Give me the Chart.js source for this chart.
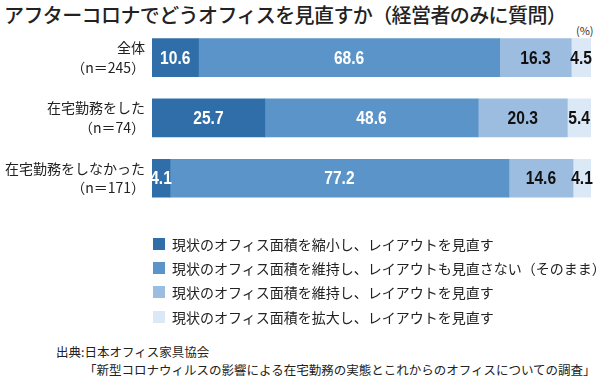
<!DOCTYPE html>
<html lang="ja">
<head>
<meta charset="utf-8">
<script src="https://cdn.jsdelivr.net/npm/chart.js@4/dist/chart.umd.min.js"></script>
<style>
  body { margin: 0; width: 600px; height: 385px; background: #fff; position: relative; overflow: hidden;
         font-family: "Noto Sans CJK JP", sans-serif; color: #222; }
  #title { position: absolute; left: 4px; top: 0px; font-size: 20px; font-weight: 500; letter-spacing: -0.6px; white-space: nowrap; }
  #unit { position: absolute; left: 576px; top: 22px; font-size: 11px; color: #333; }
  #chartWrap { position: absolute; left: 0; top: 0; width: 600px; height: 235px; }
  #legend { position: absolute; left: 153px; top: 231.5px; font-size: 14px; }
  #legend div { height: 24.4px; display: flex; align-items: center; white-space: nowrap; }
  #legend span.sw { display: inline-block; width: 12px; height: 12px; margin-right: 7px; }
  #source { position: absolute; left: 56px; top: 343px; font-size: 12.5px; line-height: 17.5px; white-space: nowrap; }
  #source .l2 { display: block; padding-left: 28px; }
</style>
</head>
<body>
<div id="title">アフターコロナでどうオフィスを見直すか（経営者のみに質問）</div>
<div id="unit">(%)</div>
<div id="chartWrap"><canvas id="chart" width="600" height="235"></canvas></div>
<div id="legend"></div>
<div id="source">出典:日本オフィス家具協会<span class="l2">「新型コロナウィルスの影響による在宅勤務の実態とこれからのオフィスについての調査」</span></div>
<script>
const categories = [
  ["全体", "（n＝245）"],
  ["在宅勤務をした", "（n＝74）"],
  ["在宅勤務をしなかった", "（n＝171）"],
];
const seriesNames = [
  "現状のオフィス面積を縮小し、レイアウトを見直す",
  "現状のオフィス面積を維持し、レイアウトも見直さない（そのまま）",
  "現状のオフィス面積を維持し、レイアウトを見直す",
  "現状のオフィス面積を拡大し、レイアウトを見直す",
];
const shrinkValues = [10.6, 25.7, 4.1];
const keepValues = [68.6, 48.6, 77.2];
const relayoutValues = [16.3, 20.3, 14.6];
const expandValues = [4.5, 5.4, 4.1];
const colors = ["#2f6ea9", "#5b94c9", "#9cbde0", "#dbe8f5"];
const labelColors = ["#ffffff", "#ffffff", "#111111", "#111111"];

const allValues = [shrinkValues, keepValues, relayoutValues, expandValues];

// legend (html)
const legendEl = document.getElementById("legend");
seriesNames.forEach((name, i) => {
  const row = document.createElement("div");
  row.innerHTML = `<span class="sw" style="background:${colors[i]}"></span>${name}`;
  legendEl.appendChild(row);
});

// value labels inside the segments, drawn narrow like a condensed face
const valueLabels = {
  id: "valueLabels",
  afterDatasetsDraw(chart) {
    const ctx = chart.ctx;
    const squeeze = 0.82;
    chart.data.datasets.forEach((ds, i) => {
      chart.getDatasetMeta(i).data.forEach((bar, j) => {
        const x = (bar.x + bar.base) / 2;
        ctx.save();
        ctx.translate(x, bar.y + 1);
        ctx.scale(squeeze, 1);
        ctx.font = "bold 19px 'Liberation Sans', sans-serif";
        ctx.textAlign = "center";
        ctx.textBaseline = "middle";
        ctx.fillStyle = labelColors[i];
        ctx.fillText(ds.data[j].toFixed(1), 0, 0);
        ctx.restore();
      });
    });
  },
};

new Chart(document.getElementById("chart").getContext("2d"), {
  type: "bar",
  data: {
    labels: categories,
    datasets: allValues.map((vals, i) => ({
      label: seriesNames[i],
      data: vals,
      backgroundColor: colors[i],
      borderWidth: 0,
      barThickness: 38,
    })),
  },
  options: {
    indexAxis: "y",
    responsive: false,
    animation: false,
    layout: { padding: { left: 0, right: 9, top: 27.5, bottom: 6.5 } },
    plugins: { legend: { display: false }, tooltip: { enabled: false } },
    scales: {
      x: { stacked: true, min: 0, max: 100, display: false },
      y: {
        stacked: true,
        grid: { display: false, drawTicks: false },
        border: { display: false },
        afterFit(scale) { scale.width = 152; },
        ticks: {
          color: "#222",
          padding: 7,
          font: { family: "'Noto Sans CJK JP', sans-serif", size: 14, lineHeight: 1.4 },
        },
      },
    },
  },
  plugins: [valueLabels],
});
</script>
</body>
</html>
